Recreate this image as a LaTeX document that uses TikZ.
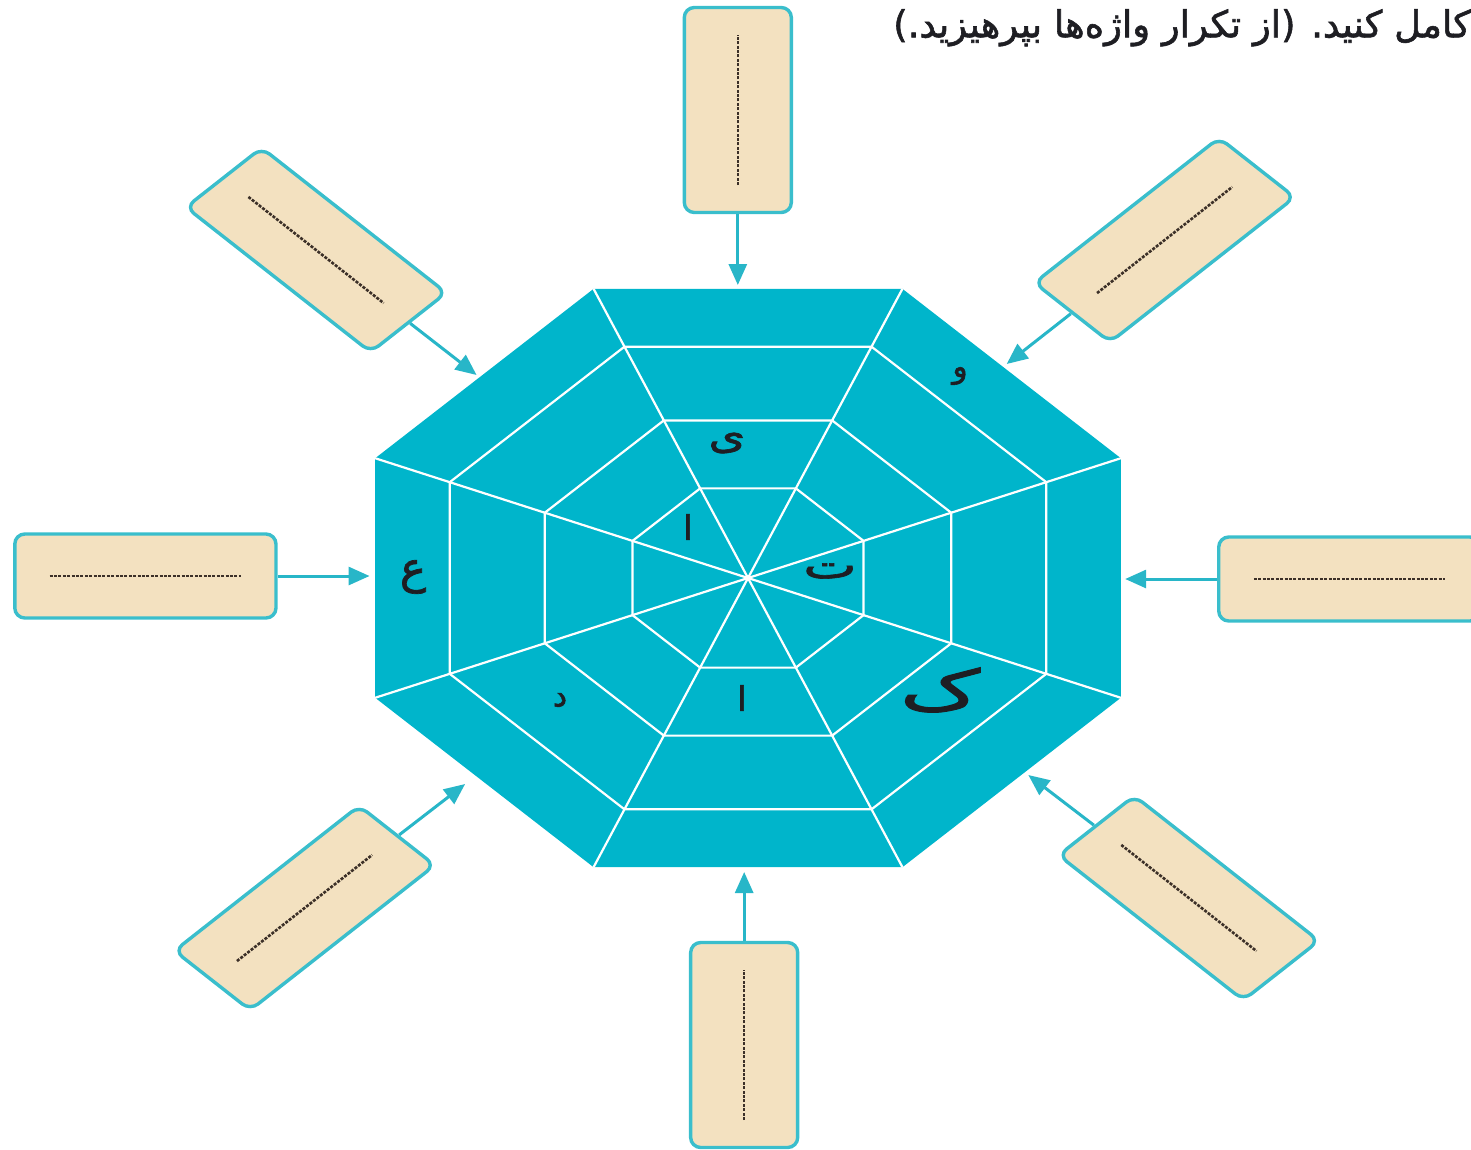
\documentclass[tikz,border=0pt]{standalone}
\usepackage{fontspec}
\newfontfamily\arabicfont[Script=Arabic]{DejaVu Sans}
\newfontfamily\arabicbold[Script=Arabic,FakeBold=1.6]{DejaVu Sans}
\TeXXeTstate=1
\usetikzlibrary{arrows.meta,calc}
\definecolor{octteal}{RGB}{0,181,203}
\definecolor{boxedge}{RGB}{58,190,204}
\definecolor{boxfill}{RGB}{243,225,192}
\definecolor{arrowteal}{RGB}{40,182,200}
\definecolor{dotink}{RGB}{60,48,40}
\definecolor{inkdark}{RGB}{30,30,35}
\begin{document}
\begin{tikzpicture}[x=1pt,y=-1pt,
  blank/.style={draw=boxedge, line width=3.4pt, fill=boxfill, rounded corners=10pt,
    minimum width=205pt, minimum height=84pt, inner sep=0pt, transform shape},
  dots/.style={dotink, line width=2.6pt, dash pattern=on 3pt off 1.4pt},
  feed/.style={arrowteal, line width=3pt, -{Triangle[length=21pt,width=18pt]}},
  web/.style={white, line width=2.2pt},
  letter/.style={font=\arabicbold\fontsize{38}{38}\selectfont, text=inkdark, inner sep=0pt}]
\useasboundingbox (0,0) rectangle (1471,1149);
\clip (0,0) rectangle (1471,1149);

\begin{scope}[shift={(748,578)}, xscale=1.274]
  % octagon web
  \begin{scope}[xscale=1.012]
  \fill[octteal] (22.5:313) \foreach \a in {67.5,112.5,...,337.5} {-- (\a:313)} -- cycle;
  \foreach \r in {250.4,170.6,97}
    \draw[web] (22.5:\r) \foreach \a in {67.5,112.5,...,337.5} {-- (\a:\r)} -- cycle;
  \foreach \a in {22.5,67.5,...,337.5}
    \draw[web] (0,0) -- (\a:313);
  \end{scope}

  % boxes
  \node[blank, rotate=90]  (bT)  at (-8,-468) {};
  \node[blank, rotate=90]  (bB)  at (-3,467) {};
  \node[blank]             (bL)  at (-473,-2) {};
  \node[blank]             (bR)  at (472,1) {};
  \node[blank, rotate=-45] (bUL) at (-339,-328) {};
  \node[blank, rotate=45]  (bUR) at (327,-338) {};
  \node[blank, rotate=45]  (bLL) at (-348,330) {};
  \node[blank, rotate=-45] (bLR) at (346,320) {};

  % arrow targets on the octagon
  \coordinate (tT)  at (-8,-293);
  \coordinate (tB)  at (-3,294);
  \coordinate (tL)  at (-297,-2);
  \coordinate (tR)  at (296,1);
  \coordinate (tUL) at (-213,-203);
  \coordinate (tUR) at (203,-214);
  \coordinate (tLL) at (-222,206);
  \coordinate (tLR) at (220,197);

  \foreach \n in {T,B,L,R,UL,UR,LL,LR}{
    \draw[feed] (b\n) -- (t\n);
    \draw[dots] ($(b\n.west)!0.14!(b\n.east)$) -- ($(b\n.west)!0.86!(b\n.east)$);
  }
\end{scope}

% letters in the web
\node[letter, font=\arabicbold\fontsize{32}{32}\selectfont] (lw) at (960,376) {و};
\node[letter] (ly)   at (727,443) {\scalebox{1.25}[1]{ی}};
\node[letter, font=\arabicbold\fontsize{34}{34}\selectfont] (la1)  at (688,527) {ا};
\node[letter] (lt)   at (830,571) {\scalebox{1.5}[1]{ت}};
\node[letter, font=\arabicbold\fontsize{44}{44}\selectfont] (lain) at (413,577) {ع};
\node[letter, font=\arabicbold\fontsize{32}{32}\selectfont] (ld)   at (560,700) {د};
\node[letter, font=\arabicbold\fontsize{34}{34}\selectfont] (la2)  at (742,698) {ا};
\node[letter, font=\arabicbold\fontsize{56}{56}\selectfont] (lk) at (940,690) {\scalebox{1.6}[1]{ک}};

% instruction text
\node[anchor=north east, inner sep=0pt, text=inkdark,
      font=\arabicbold\fontsize{37}{44}\selectfont] (title) at (1471,9)
  {\beginR کامل کنید. (از تکرار واژه‌ها بپرهیزید.)\endR};
\end{tikzpicture}
\end{document}
